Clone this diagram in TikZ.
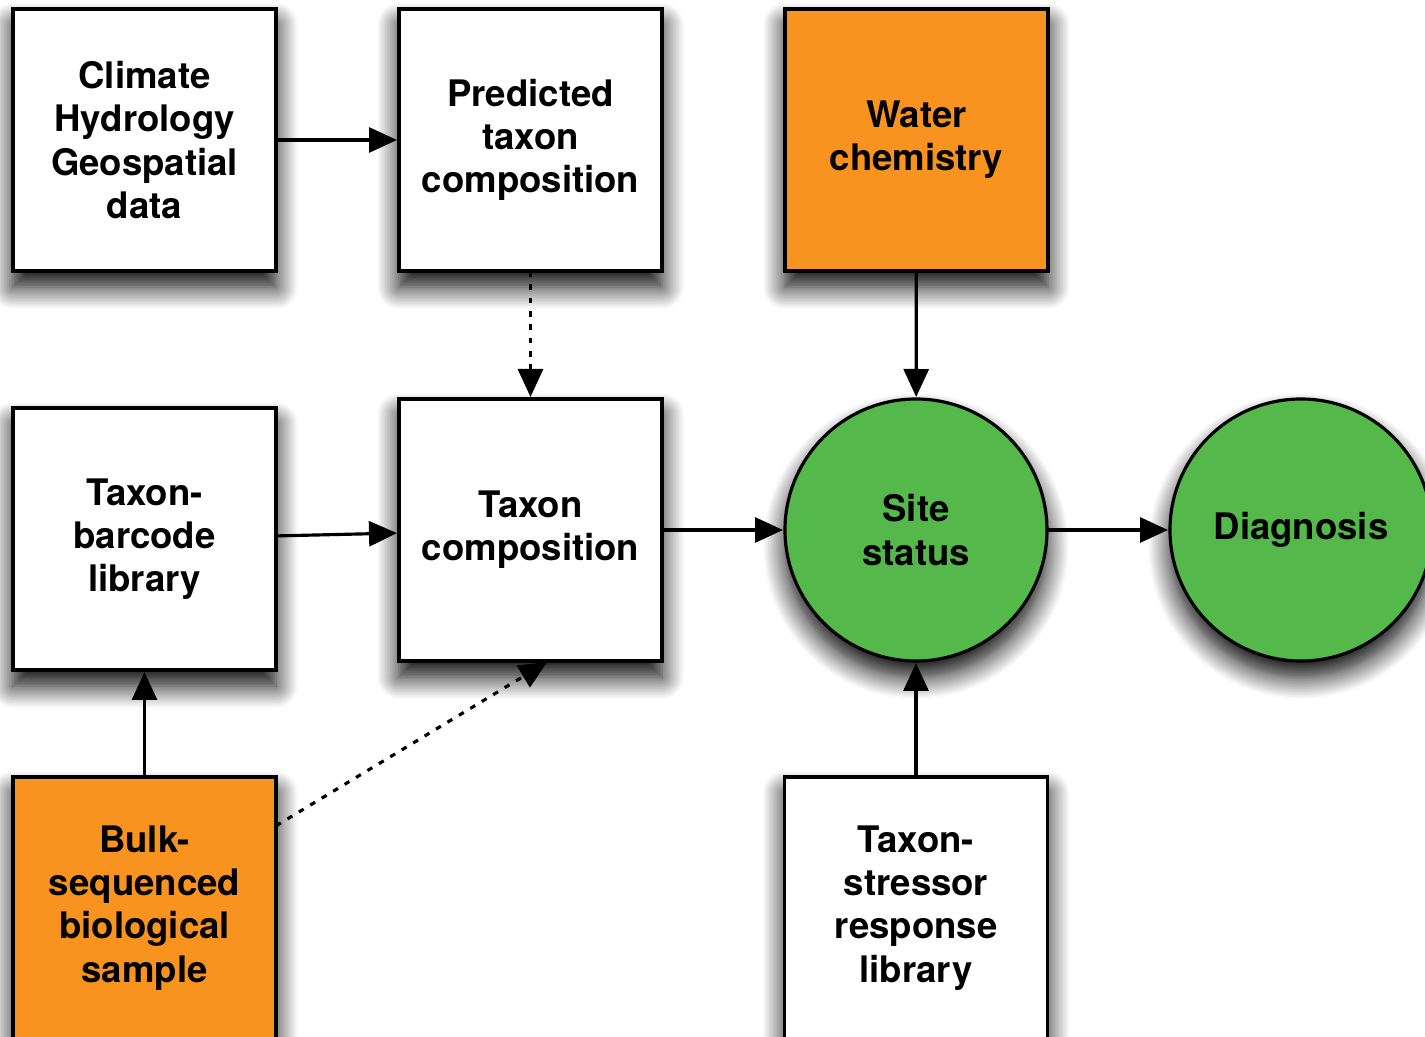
\documentclass[tikz,border=0pt]{standalone}
\usepackage{fontspec}
\setmainfont{TeX Gyre Heros}
\usetikzlibrary{shapes, positioning, arrows.meta, shadows.blur}

\definecolor{sampleorange}{HTML}{F7931E}
\definecolor{statusgreen}{HTML}{55B84A}

\begin{document}
\begin{tikzpicture}[
    box/.style={
        rectangle,
        draw=black,
        line width=0.9pt,
        minimum width=2.63cm,
        minimum height=2.62cm,
        fill=white,
        align=center,
        inner sep=2pt,
        outer sep=0pt,
        font=\fontsize{10.4}{12.3}\selectfont\bfseries,
        blur shadow={shadow xshift=0pt, shadow yshift=-0.16cm, shadow blur radius=0.22cm, shadow blur steps=14, shadow opacity=100}
    },
    ball/.style={
        box,
        circle,
        minimum size=2.62cm,
        fill=statusgreen
    },
    input/.style={
        fill=sampleorange
    },
    arrow/.style={
        -{Triangle[length=0.28cm, width=0.25cm]},
        line width=0.9pt,
        shorten >=0.02cm
    },
    link/.style={
        arrow,
        dash pattern=on 1.6pt off 2.2pt
    }
]

    \useasboundingbox (0,0) rectangle (14.25,-10.37);

    % -- Top row --
    \node[box] (climate) at (1.445,-1.40) {Climate\\Hydrology\\Geospatial\\data};
    \node[box, right=1.23cm of climate] (predicted) {Predicted\\taxon\\composition};
    \node[box, input, right=1.23cm of predicted] (water) {Water\\chemistry};

    % -- Middle row --
    \node[box, below=1.28cm of predicted] (taxcomp) {Taxon\\composition};
    \node[box, left=1.23cm of taxcomp, yshift=-0.09cm] (barcode) {Taxon-\\barcode\\library};
    \node[ball, right=1.23cm of taxcomp] (site) {Site\\status};
    \node[ball, right=1.23cm of site] (diagnosis) {Diagnosis};

    % -- Bottom row --
    \node[box, input, below=1.07cm of barcode] (bulk) {Bulk-\\sequenced\\biological\\sample};
    \node[box, below=1.16cm of site] (stressor) {Taxon-\\stressor\\response\\library};

    % Connectors
    \draw[arrow] (climate) -- (predicted);
    \draw[link] (predicted) -- (taxcomp);
    \draw[arrow] (barcode) -- (taxcomp);
    \draw[arrow] (taxcomp) -- (site);
    \draw[arrow] (water) -- (site);
    \draw[arrow] (site) -- (diagnosis);
    \draw[arrow] (bulk) -- (barcode);
    \draw[link] (bulk.32) -- (taxcomp.-82); % dotted, to the lower edge
    \draw[arrow] (stressor) -- (site);

\end{tikzpicture}
\end{document}
